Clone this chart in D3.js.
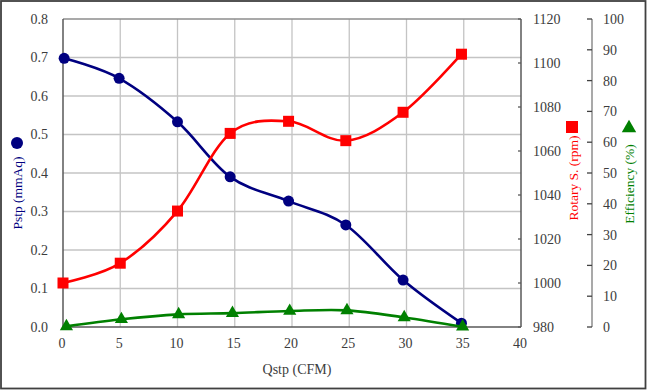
<!DOCTYPE html>
<html><head><meta charset="utf-8">
<script src="https://cdn.jsdelivr.net/npm/d3@7"></script>
<style>
body{margin:0;background:#fff;}
svg{display:block;font-family:"Liberation Serif","Times New Roman",serif;}
</style></head>
<body><svg id="c" width="647" height="390"></svg>
<script>
const qstp = [0.1, 4.9, 10.0, 14.6, 19.7, 24.7, 29.7, 34.8];
const pstp = [0.698, 0.646, 0.533, 0.390, 0.327, 0.265, 0.122, 0.010];
const qRpm = [0.0, 5.0, 10.0, 14.6, 19.7, 24.7, 29.7, 34.8];
const rpm = [1000, 1009, 1032.7, 1068, 1073.5, 1064.7, 1077.6, 1104];
const qEff = [0.3, 5.1, 10.1, 14.8, 19.8, 24.8, 29.8, 34.9];
const eff = [0.2, 2.5, 4.1, 4.5, 5.2, 5.4, 3.1, 0.1];
const xTicks = [0,5,10,15,20,25,30,35,40];
const pTicks = [0,0.1,0.2,0.3,0.4,0.5,0.6,0.7,0.8];
const rTicks = [980,1000,1020,1040,1060,1080,1100,1120];
const eTicks = [0,10,20,30,40,50,60,70,80,90,100];

const svg = d3.select('#c');
const L=63, R=521, T=19, B=327;
const x = d3.scaleLinear().domain([0,40]).range([L,R]);
const yP = d3.scaleLinear().domain([0,0.8]).range([B,T]);
const yR = d3.scaleLinear().domain([980,1120]).range([B,T]);
const yE = d3.scaleLinear().domain([0,100]).range([B,T]);
const txt = '#3c3c3c', navy='#000080', red='#ff0000', green='#008000';

svg.append('rect').attr('x',1).attr('y',1).attr('width',644.5).attr('height',387.5)
  .attr('fill','#fff').attr('stroke','#404040').attr('stroke-width',1.8);

// gridlines
svg.append('g').selectAll('line').data(pTicks.slice(1,-1)).join('line')
  .attr('x1',L).attr('x2',R).attr('y1',d=>yP(d)).attr('y2',d=>yP(d))
  .attr('stroke','#c4c4c4').attr('stroke-width',1.3);
svg.append('g').selectAll('line').data(xTicks.slice(1,-1)).join('line')
  .attr('y1',T).attr('y2',B).attr('x1',d=>x(d)).attr('x2',d=>x(d))
  .attr('stroke','#c4c4c4').attr('stroke-width',1.3);
// frame
svg.append('line').attr('x1',L).attr('x2',R).attr('y1',T).attr('y2',T).attr('stroke','#8c8c8c').attr('stroke-width',1.3);
svg.append('line').attr('x1',L).attr('x2',R).attr('y1',B).attr('y2',B).attr('stroke','#595959').attr('stroke-width',1.5);
svg.append('line').attr('x1',L).attr('x2',L).attr('y1',T).attr('y2',B).attr('stroke','#595959').attr('stroke-width',1.5);
svg.append('line').attr('x1',R).attr('x2',R).attr('y1',T).attr('y2',B).attr('stroke','#595959').attr('stroke-width',1.5);

const fs = '14px';
// left axis labels
svg.append('g').selectAll('text').data(pTicks).join('text')
  .attr('x',48).attr('y',d=>yP(d)).attr('dy','0.35em').attr('text-anchor','end')
  .attr('font-size',fs).attr('fill',txt).text(d=>d3.format('.1f')(d));
// x labels
svg.append('g').selectAll('text').data(xTicks).join('text')
  .attr('x',d=>x(d)-1).attr('y',348).attr('text-anchor','middle')
  .attr('font-size',fs).attr('fill',txt).text(d=>d);
// rpm axis ticks+labels
svg.append('g').selectAll('line').data(rTicks).join('line')
  .attr('x1',R-3).attr('x2',R).attr('y1',d=>yR(d)).attr('y2',d=>yR(d)).attr('stroke','#595959').attr('stroke-width',1.3);
svg.append('g').selectAll('text').data(rTicks).join('text')
  .attr('x',533).attr('y',d=>yR(d)).attr('dy','0.35em')
  .attr('font-size',fs).attr('fill',txt).text(d=>d);
// efficiency axis
const EX = 592;
svg.append('line').attr('x1',EX).attr('x2',EX).attr('y1',T).attr('y2',B).attr('stroke','#8c8c8c').attr('stroke-width',1.5);
svg.append('g').selectAll('line').data(eTicks).join('line')
  .attr('x1',EX-5).attr('x2',EX).attr('y1',d=>yE(d)).attr('y2',d=>yE(d)).attr('stroke','#404040').attr('stroke-width',1.3);
svg.append('g').selectAll('text').data(eTicks).join('text')
  .attr('x',603).attr('y',d=>yE(d)).attr('dy','0.35em')
  .attr('font-size',fs).attr('fill',txt).text(d=>d);

// titles
svg.append('text').attr('x',297).attr('y',374).attr('text-anchor','middle')
  .attr('font-size','14px').attr('fill',txt).text('Qstp (CFM)');
svg.append('text').attr('transform','translate(22,193) rotate(-90)').attr('text-anchor','middle')
  .attr('font-size','13.5px').attr('fill',navy).text('Pstp (mmAq)');
svg.append('circle').attr('cx',17).attr('cy',143).attr('r',6).attr('fill',navy);
svg.append('text').attr('transform','translate(578,178) rotate(-90)').attr('text-anchor','middle')
  .attr('font-size','13.5px').attr('fill',red).text('Rotary S. (rpm)');
svg.append('rect').attr('x',566).attr('y',121).attr('width',12).attr('height',12).attr('fill',red);
svg.append('text').attr('transform','translate(634,184) rotate(-90)').attr('text-anchor','middle')
  .attr('font-size','13.5px').attr('fill',green).text('Efficiency (%)');
svg.append('path').attr('d',d3.symbol(d3.symbolTriangle,90)()).attr('transform','translate(629,128)').attr('fill',green);

const curve = d3.curveCatmullRom.alpha(0);
// Pstp series
const pData = qstp.map((q,i)=>[q,pstp[i]]);
svg.append('path').datum(pData).attr('fill','none').attr('stroke',navy).attr('stroke-width',2.6)
  .attr('d',d3.line().x(d=>x(d[0])).y(d=>yP(d[1])).curve(curve));
svg.append('g').selectAll('circle').data(pData).join('circle')
  .attr('cx',d=>x(d[0])).attr('cy',d=>yP(d[1])).attr('r',5.5).attr('fill',navy);
// rpm series
const rData = qRpm.map((q,i)=>[q,rpm[i]]);
svg.append('path').datum(rData).attr('fill','none').attr('stroke',red).attr('stroke-width',2.6)
  .attr('d',d3.line().x(d=>x(d[0])).y(d=>yR(d[1])).curve(curve));
svg.append('g').selectAll('rect').data(rData).join('rect')
  .attr('x',d=>x(d[0])-5.5).attr('y',d=>yR(d[1])-5.5).attr('width',11).attr('height',11).attr('fill',red);
// efficiency series
const eData = qEff.map((q,i)=>[q,eff[i]]);
svg.append('path').datum(eData).attr('fill','none').attr('stroke',green).attr('stroke-width',2.6)
  .attr('d',d3.line().x(d=>x(d[0])).y(d=>yE(d[1])).curve(curve));
svg.append('g').selectAll('path.m').data(eData).join('path').attr('class','m')
  .attr('d',d3.symbol(d3.symbolTriangle,75)())
  .attr('transform',d=>`translate(${x(d[0])},${yE(d[1])})`).attr('fill',green);
</script></body></html>
